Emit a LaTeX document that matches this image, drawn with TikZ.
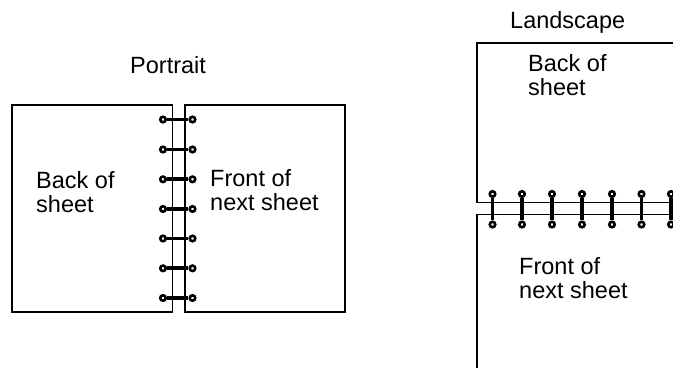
\documentclass[tikz,border=0pt]{standalone}
\usepackage{fontspec}
\setmainfont{Liberation Sans}
\tikzset{
 sheet/.style={line width=1.4pt,line cap=butt,line join=miter},
 ring/.style={line width=3.7pt},
 eyelet/.style={circle,draw=black,fill=white,line width=2.6pt,inner sep=0pt,minimum size=5.5pt},
 lbl/.style={inner sep=0pt,align=left,anchor=base west,font=\fontsize{23.5}{24}\selectfont},
}
\begin{document}
\begin{tikzpicture}[x=1pt,y=-1pt]
\useasboundingbox (0,0) rectangle (673,368);
% portrait sheets
\coordinate (pa1) at (172.5,105); \coordinate (pa2) at (12,105); \coordinate (pa3) at (12,312); \coordinate (pa4) at (172.5,312);
\coordinate (pb1) at (185,105); \coordinate (pb2) at (345,105); \coordinate (pb3) at (345,312); \coordinate (pb4) at (185,312);
\draw[sheet] (pa1) -- (pa2) -- (pa3) -- (pa4) -- cycle;
\draw[sheet] (pb1) -- (pb2) -- (pb3) -- (pb4) -- cycle;
\foreach \i/\y in {1/119.5,2/149.5,3/179.3,4/209,5/238.5,6/268.3,7/298}{
  \node[eyelet] (pl\i) at (163,\y) {};
  \node[eyelet] (pr\i) at (192.5,\y) {};
  \draw[ring] (pl\i) -- (pr\i);
}
% landscape sheets
\coordinate (la1) at (477,43); \coordinate (la2) at (673,43); \coordinate (la3) at (477,202.5); \coordinate (la4) at (673,202.5);
\coordinate (lb1) at (477,368); \coordinate (lb2) at (477,214.3); \coordinate (lb3) at (673,214.3);
\draw[sheet] (la2) -- (la1) -- (la3) -- (la4);
\draw[sheet] (lb1) -- (lb2) -- (lb3);
\foreach \i/\x in {1/492.5,2/522,3/552,4/582,5/612,6/641.5,7/671}{
  \node[eyelet] (lt\i) at (\x,194) {};
  \node[eyelet] (lu\i) at (\x,224.5) {};
  \draw[ring] (lt\i) -- (lu\i);
}
% labels
\node[lbl] (t1) at (130,73) {Portrait};
\node[lbl] (t2) at (36,212) {Back of\\sheet};
\node[lbl] (t3) at (210,210.5) {Front of\\next sheet};
\node[lbl] (t4) at (510,28) {Landscape};
\node[lbl] (t5) at (528,95.7) {Back of\\sheet};
\node[lbl] (t6) at (519,298.7) {Front of\\next sheet};
\end{tikzpicture}
\end{document}
